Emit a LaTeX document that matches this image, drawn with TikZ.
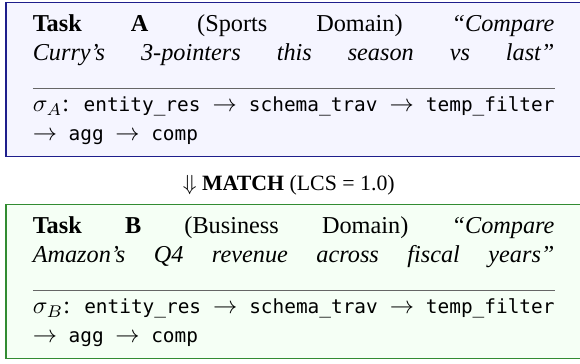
\documentclass[tikz,border=0pt]{standalone}
\usepackage{fontspec}
\setmainfont{Liberation Serif}
\setmonofont{DejaVu Sans Mono}
\definecolor{sportsline}{RGB}{30,30,140}
\definecolor{sportsfill}{RGB}{245,245,255}
\definecolor{bizline}{RGB}{50,140,50}
\definecolor{bizfill}{RGB}{245,255,245}
\newcommand{\tfn}[1]{{\fontsize{8}{12}\selectfont\texttt{#1}}}
\newcommand{\seqpar}{\spaceskip=4.8pt plus 3pt minus 1pt\relax}
\begin{document}
\begin{tikzpicture}[x=1pt,y=1pt,
    taskbox/.style={draw=#1line, fill=#1fill, line width=0.6pt, anchor=north west,
      text width=215pt, inner xsep=11.1pt, inner ysep=4.75pt, align=justify,
      font=\fontsize{10}{12}\selectfont}]
      \useasboundingbox (0,0) rectangle (239,-149.6);

      \node[taskbox=sports, at={(2.1,-0.8)}] (taskA) {\tolerance=10000 \hbadness=10000
        {\parfillskip=0pt \textbf{Task A} (Sports Domain) \textit{``Compare\linebreak
        Curry's 3-pointers this season vs last''}\par}
        \vspace{9.3pt}{\color{black!60}\hrule height 0.5pt\relax}\vspace{3.2pt}
        \seqpar $\sigma_A$: \tfn{entity\_res} $\rightarrow$ \tfn{schema\_trav} $\rightarrow$ \tfn{temp\_filter}\linebreak
        $\rightarrow$ \tfn{agg} $\rightarrow$ \tfn{comp}};
      \node[at={(119,-76.2)}, font=\fontsize{9}{11}\selectfont] (match) {$\Downarrow$ \textbf{MATCH} (LCS = 1.0)};
      \node[taskbox=biz, at={(2.1,-84.05)}] (taskB) {\tolerance=10000 \hbadness=10000
        {\parfillskip=0pt \textbf{Task B} (Business Domain) \textit{``Compare\linebreak
        Amazon's Q4 revenue across fiscal years''}\par}
        \vspace{9.3pt}{\color{black!60}\hrule height 0.5pt\relax}\vspace{3.2pt}
        \seqpar $\sigma_B$: \tfn{entity\_res} $\rightarrow$ \tfn{schema\_trav} $\rightarrow$ \tfn{temp\_filter}\linebreak
        $\rightarrow$ \tfn{agg} $\rightarrow$ \tfn{comp}};
    \end{tikzpicture}
\end{document}
